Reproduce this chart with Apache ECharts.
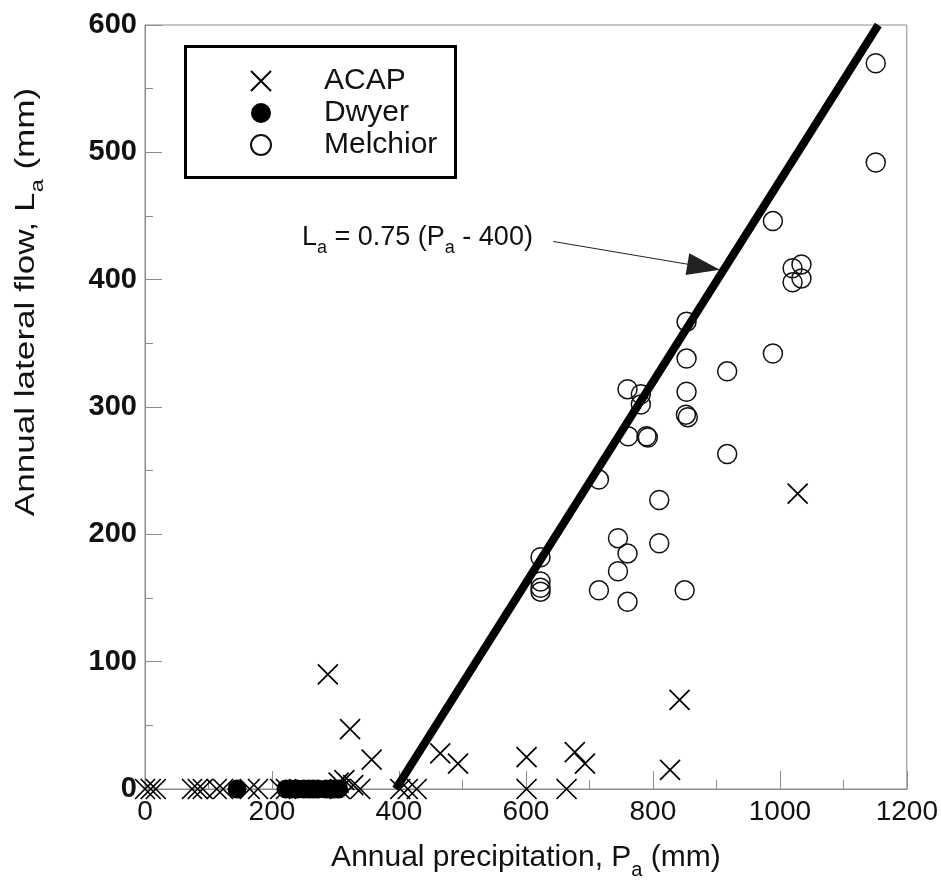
<!DOCTYPE html>
<html>
<head>
<meta charset="utf-8">
<script src="https://cdn.jsdelivr.net/npm/echarts@6/dist/echarts.min.js"></script>
<style>html,body{margin:0;padding:0;background:#fff;}#c{width:941px;height:893px;}</style>
</head>
<body>
<div id="c"></div>
<script>
// ---- data ----
var xTicks = [0, 200, 400, 600, 800, 1000, 1200];
var yTicks = [0, 100, 200, 300, 400, 500, 600];
var acap = [[0,0],[9,0],[17,0],[74,0],[83,0],[91,0],[113,0],[123,0],[165,0],[178,0],[213,0],[222,0],
  [305,5],[307,0],[314,7],[328,3],[339,0],[402,0],[414,0],[428,0],
  [288,90],[323,47],[357,23],[465,28],[493,20],[601,25],[601,0],[664,0],[677,29],[693,20],
  [827,15],[842,70],[1028,232]];
var dwyer = [[145,0],[222,0],[230,0],[240,0],[250,0],[258,0],[265,0],[272,0],[285,0],[292,0],[298,0],[305,0]];
var melchior = [[1151,570],[1151,492],[989,446],[1020,409],[1034,412],[1020,398],[1034,401],[853,367],
  [989,342],[853,338],[917,328],[760,314],[781,310],[853,312],[781,302],[852,294],[855,292],
  [761,277],[790,277],[792,276],[917,263],[715,243],[810,227],[745,197],[810,193],[760,185],
  [745,171],[715,156],[850,156],[760,147],[623,182],[623,163],[623,158],[623,155]];
var fitLine = [[395,0],[1155,600]];
var arrowFrom = [643,430];
var arrowTo = [880,410];

var FONT = '"Liberation Sans", Arial, sans-serif';
var GRAY = '#8c8c8c';
var cross = 'path://M0,0L10,10M10,0L0,10';

var chart = echarts.init(document.getElementById('c'), null, {renderer:'canvas'});
chart.setOption({
  animation: false,
  backgroundColor: '#fff',
  grid: {left:145, right:34, top:25, bottom:104, show:true, borderColor:GRAY, borderWidth:1},
  xAxis: {
    type:'value', min:0, max:1200, interval:200,
    axisLine:{show:true, lineStyle:{color:GRAY, width:1}},
    axisTick:{show:true, inside:true, length:18, lineStyle:{color:GRAY}},
    minorTick:{show:true, splitNumber:2, length:9, lineStyle:{color:GRAY}},
    splitLine:{show:false},
    axisLabel:{fontFamily:FONT, fontSize:28, color:'#111', margin:9,
      formatter:function(v){return xTicks.indexOf(v)>=0? String(v):'';}},
    name:'{a|Annual precipitation, P}{s|a}{a| (mm)}',
    nameLocation:'middle', nameGap:47,
    nameTextStyle:{rich:{a:{fontFamily:FONT, fontSize:30, color:'#111'}, s:{fontFamily:FONT, fontSize:20, color:'#111', padding:[24,0,0,0]}}}
  },
  yAxis: {
    type:'value', min:0, max:600, interval:100,
    axisLine:{show:true, lineStyle:{color:GRAY, width:1}},
    axisTick:{show:true, inside:true, length:17, lineStyle:{color:GRAY}},
    minorTick:{show:true, splitNumber:2, length:8, lineStyle:{color:GRAY}},
    splitLine:{show:false},
    axisLabel:{fontFamily:FONT, fontSize:29, fontWeight:'bold', color:'#111', margin:8,
      formatter:function(v){return yTicks.indexOf(v)>=0? String(v):'';}}
  },
  legend: {
    data:['ACAP','Dwyer','Melchior'],
    orient:'vertical', left:250, top:66, itemWidth:20, itemHeight:20, itemGap:2,
    padding:0,
    textStyle:{fontFamily:FONT, fontSize:30, color:'#111', padding:[0,0,0,48]}
  },
  graphic: [
    {type:'rect', left:183, top:44, shape:{width:270, height:131}, style:{fill:'none', stroke:'#000', lineWidth:3}, z:0},
    {type:'text', left:302, top:224,
      style:{text:'{a|L}{s|a}{a| = 0.75 (P}{s|a}{a| - 400)}',
        rich:{a:{fontFamily:FONT, fontSize:27, fill:'#111'}, s:{fontFamily:FONT, fontSize:18, fill:'#111', padding:[22,0,0,0]}}}},
    {type:'text', rotation:Math.PI/2, scaleX:1.3, scaleY:1, x:7, y:302,
      style:{text:'{a|Annual lateral flow, L}{s|a}{a| (mm)}', align:'center', verticalAlign:'top',
        rich:{a:{fontFamily:FONT, fontSize:27, fill:'#111'}, s:{fontFamily:FONT, fontSize:18, fill:'#111', padding:[22,0,0,0]}}}}
  ],
  series: [
    {name:'ACAP', type:'scatter', data:acap, symbol:cross, symbolSize:20, z:3,
      itemStyle:{color:'rgba(0,0,0,0)', borderColor:'#000', borderWidth:1.7, opacity:1}},
    {name:'Dwyer', type:'scatter', data:dwyer, symbol:'circle', symbolSize:19, z:4,
      itemStyle:{color:'#000', borderColor:'#000', borderWidth:0, opacity:1}},
    {name:'Melchior', type:'scatter', data:melchior, symbol:'circle', symbolSize:19, z:3,
      itemStyle:{color:'rgba(0,0,0,0)', borderColor:'#111', borderWidth:1.5, opacity:1}},
    {name:'fit', type:'line', data:fitLine, showSymbol:false, symbol:'none', z:5,
      lineStyle:{color:'#000', width:8, cap:'butt'},
      markLine:{silent:true, symbol:['none','triangle'], symbolSize:[22,33],
        lineStyle:{color:'#222', width:1, type:'solid'}, label:{show:false},
        data:[[{coord:arrowFrom},{coord:arrowTo}]]}}
  ]
});
</script>
</body>
</html>
